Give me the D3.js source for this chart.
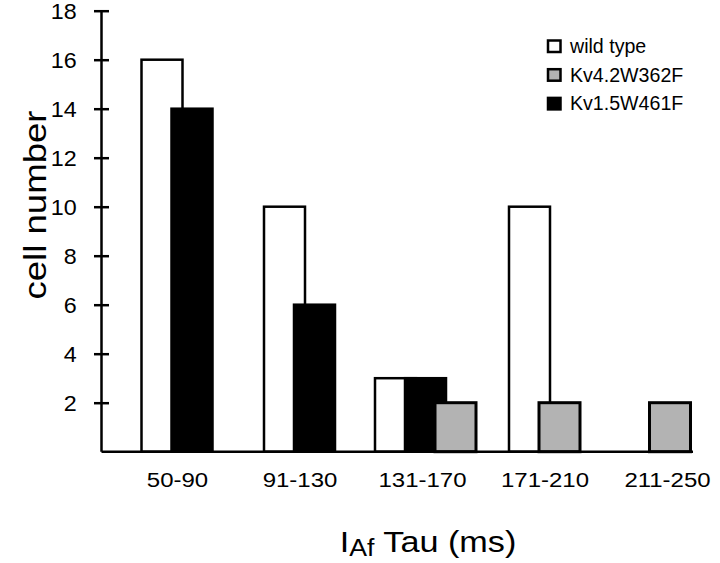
<!DOCTYPE html>
<html>
<head>
<meta charset="utf-8">
<script src="https://cdn.jsdelivr.net/npm/d3@7/dist/d3.min.js"></script>
<style>
  html, body { margin: 0; padding: 0; background: #fff; }
  text { font-family: "Liberation Sans", Arial, Helvetica, sans-serif; fill: #000; }
</style>
</head>
<body>
<svg id="chart" width="720" height="563"></svg>
<script>
// ---- data ----
const categories = ["50-90", "91-130", "131-170", "171-210", "211-250"];
const wildType   = [16, 10, 3, 10, 0];
const kv15W461F  = [14, 6, 3, 0, 0];
const kv42W362F  = [0, 0, 2, 2, 2];
const yTicks     = [2, 4, 6, 8, 10, 12, 14, 16, 18];
const seriesNames = ["wild type", "Kv1.5W461F", "Kv4.2W362F"];
const legendOrder = ["wild type", "Kv4.2W362F", "Kv1.5W461F"];

const seriesValues = { "wild type": wildType, "Kv1.5W461F": kv15W461F, "Kv4.2W362F": kv42W362F };
const fills = { "wild type": "#ffffff", "Kv1.5W461F": "#000000", "Kv4.2W362F": "#b3b3b3" };

const svg = d3.select("#chart");

const x = d3.scalePoint().domain(categories).range([177, 667]);
const y = d3.scaleLinear().domain([0, 18]).range([451.7, 10.7]);

const barW = 41, step = 30;

// bars: packed per group, in series order, centered on category
categories.forEach((cat, i) => {
  const present = seriesNames.filter(s => seriesValues[s][i] > 0);
  const n = present.length;
  const shift = n === 3 ? 3.5 : (n === 1 ? 3 : 0);
  present.forEach((s, k) => {
    const v = seriesValues[s][i];
    const cx = x(cat) + shift + (k - (n - 1) / 2) * step;
    svg.append("rect")
      .attr("x", cx - barW / 2)
      .attr("y", y(v))
      .attr("width", barW)
      .attr("height", y(0) - y(v))
      .attr("fill", fills[s])
      .attr("stroke", "#000")
      .attr("stroke-width", s === "Kv4.2W362F" ? 3 : 2.5);
  });
});

// x baseline
svg.append("line")
  .attr("x1", 101.5).attr("x2", 693)
  .attr("y1", y(0)).attr("y2", y(0))
  .attr("stroke", "#000").attr("stroke-width", 2.5);

// y axis
const yAxis = d3.axisLeft(y).tickValues(yTicks).tickSize(0).tickFormat(d3.format("d"));
const gY = svg.append("g").attr("transform", "translate(101.5,0)").call(yAxis);
gY.select(".domain").remove();
gY.selectAll(".tick text").remove();
gY.append("line").attr("x1", 0).attr("x2", 0).attr("y1", y(18)).attr("y2", y(0))
  .attr("stroke", "#000").attr("stroke-width", 2.5);
gY.selectAll(".tick").append("line")
  .attr("x1", -7.5).attr("x2", 7.5)
  .attr("stroke", "#000").attr("stroke-width", 2.5);
gY.selectAll(".tick").append("text")
  .attr("x", -23.5).attr("y", 8)
  .attr("text-anchor", "end")
  .attr("font-size", 22)
  .attr("transform", "scale(1.06,1)")
  .text(d => d);

// x tick labels
const xAxis = d3.axisBottom(x).tickSize(0);
const gX = svg.append("g").call(xAxis);
gX.select(".domain").remove();
gX.selectAll(".tick text").remove();
gX.selectAll(".tick").append("text")
  .attr("text-anchor", "middle")
  .attr("font-size", 20.5)
  .attr("transform", "translate(0,487) scale(1.17,1)")
  .text(d => d);

// x axis title: I_Af Tau (ms)
const title = svg.append("text")
  .attr("font-size", 29.5)
  .attr("transform", "translate(428,551.5) scale(1.16,1)")
  .attr("text-anchor", "middle");
title.append("tspan").text("I");
title.append("tspan").attr("font-size", 23).attr("dy", 4).text("Af");
title.append("tspan").attr("dy", -4).text(" Tau (ms)");

// y axis title
svg.append("text")
  .attr("font-size", 31)
  .attr("text-anchor", "middle")
  .attr("transform", "translate(46,205) rotate(-90) scale(1.18,1)")
  .text("cell number");

// legend
const leg = svg.append("g");
legendOrder.forEach((s, i) => {
  const by = 53 + i * 28.7;
  leg.append("rect")
    .attr("x", 548).attr("y", by - 12.5)
    .attr("width", 12.5).attr("height", 11.5)
    .attr("fill", fills[s]).attr("stroke", "#000").attr("stroke-width", 2.5);
  leg.append("text")
    .attr("x", 570).attr("y", by)
    .attr("font-size", 19.6)
    .text(s);
});
</script>
</body>
</html>
